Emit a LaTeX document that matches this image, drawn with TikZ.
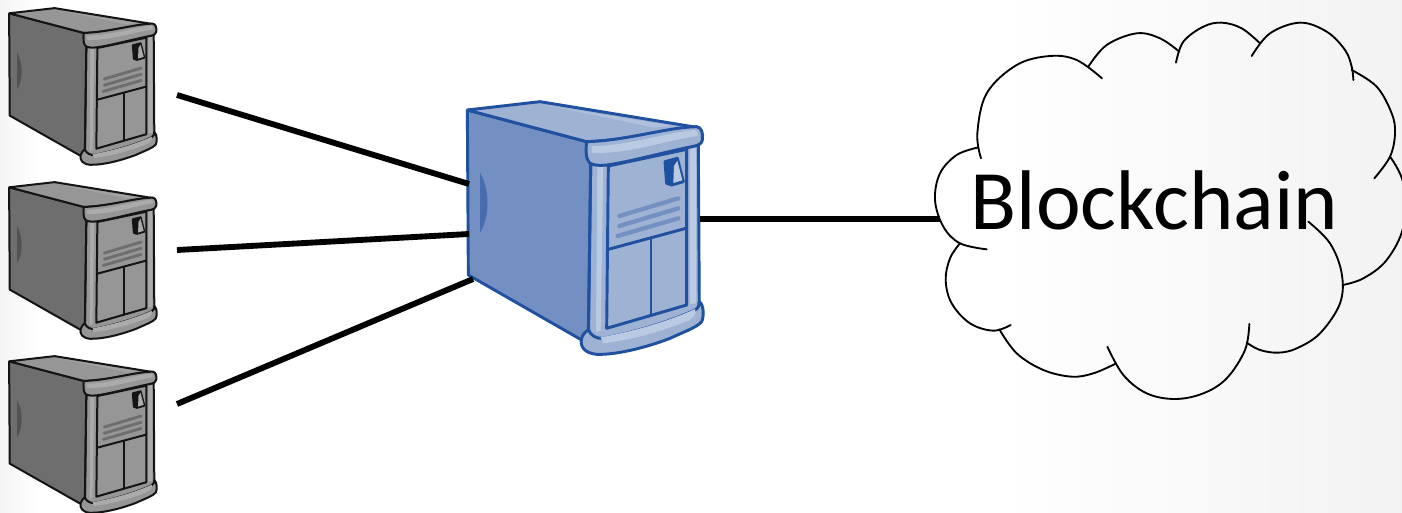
\documentclass[tikz,border=0pt]{standalone}
\usepackage{fontspec}
\setmainfont{Carlito}
\newcommand{\towerdraw}[2]{% line width, bulge colour
  \begin{scope}[line width=#1, draw=tline, line join=round]
    % side
    \fill[tside] (82,60) -- (440,155) -- (450,230) -- (445,720) -- (425,750) -- (85,555) -- cycle;
    \draw (82,60) -- (440,155);
    \draw (82,60) -- (85,555) -- (425,750);
    \fill[#2] (120,248) .. controls (150,300) and (150,380) .. (120,428) -- cycle;
    % top
    \filldraw[fill=tlight] (82,60) -- (300,35) -- (770,112) .. controls (700,112) and (560,152) .. (440,155) -- cycle;
    \fill[thigh!60!tlight] (330,48) -- (700,108) -- (640,112) -- cycle;
    % front frame
    \filldraw[fill=tlight] (452,225) -- (775,165) -- (778,670) -- (445,765) -- cycle;
    \fill[thigh] (472,225) -- (490,222) -- (482,722) -- (468,726) -- cycle;
    \fill[thigh] (750,178) -- (768,172) -- (768,640) -- (750,642) -- cycle;
    \draw (452,225) -- (445,730);
    % panel
    \filldraw[fill=tlight] (505,228) -- (740,178) -- (740,645) -- (500,715) -- cycle;
    \draw (505,478) -- (738,415);
    \draw (633,445) -- (633,672);
    % vents
    \begin{scope}[draw=tside, line width=1.45*#1, line cap=round]
      \draw (538,378) -- (715,325);
      \draw (538,408) -- (715,355);
      \draw (533,438) -- (715,385);
    \end{scope}
    % switch
    \filldraw[fill=tline] (675,215) -- (712,205) -- (730,275) -- (695,285) -- (680,280) -- cycle;
    \fill[thigh] (702,228) -- (712,212) -- (727,271) -- (700,279) -- cycle;
    % upper lip
    \filldraw[fill=tlight] (440,155) .. controls (560,152) and (680,112) .. (770,110)
      .. controls (785,112) and (790,130) .. (787,150)
      .. controls (785,162) and (775,165) .. (765,168)
      .. controls (680,185) and (590,210) .. (520,222)
      .. controls (490,228) and (460,228) .. (448,218)
      .. controls (437,205) and (437,180) .. (440,155) -- cycle;
    \fill[thigh] (455,168) .. controls (560,168) and (680,128) .. (762,120)
      .. controls (772,122) and (776,130) .. (772,138)
      .. controls (680,150) and (560,195) .. (455,188) -- cycle;
    % lower lip
    \filldraw[fill=tlight] (445,718) .. controls (450,735) and (470,748) .. (490,745)
      .. controls (590,725) and (690,695) .. (765,660)
      .. controls (775,655) and (778,645) .. (778,635)
      .. controls (792,645) and (792,680) .. (785,695)
      .. controls (770,712) and (740,722) .. (690,745)
      .. controls (620,772) and (530,795) .. (470,793)
      .. controls (435,790) and (418,770) .. (425,745)
      .. controls (428,730) and (440,725) .. (445,718) -- cycle;
    \fill[thigh] (482,742) .. controls (590,722) and (690,692) .. (765,657)
      .. controls (772,672) and (760,684) .. (745,692)
      .. controls (660,726) and (580,748) .. (490,760) -- cycle;
  \end{scope}
}
\tikzset{
  link/.style={draw=black, line width=4.4pt},
  lobe/.style={draw=black, line width=1.4pt, line cap=round, smooth, tension=0.6}
}
\colorlet{tside}{black}\colorlet{tlight}{black}\colorlet{thigh}{black}\colorlet{tline}{black}
\begin{document}
\begin{tikzpicture}[x=0.75pt,y=-0.75pt]
\useasboundingbox (0,0) rectangle (1402,513);
\fill[white] (0,0) rectangle (1402,513);
\shade[left color=white, right color=black!5] (1000,0) rectangle (1402,513);
\shade[left color=black!4, right color=white] (0,0) rectangle (40,513);
% grey towers
\colorlet{tside}{black!57}\colorlet{tlight}{black!41}\colorlet{thigh}{black!33}\colorlet{tline}{black!92}
\foreach \dy in {0,174,348}{
  \begin{scope}[shift={(-8,0.9+\dy)},x=0.1565pt,y=-0.155pt]
    \towerdraw{1.5pt}{black!68}
  \end{scope}
}
% blue tower
\colorlet{tside}{rgb,255:red,116;green,144;blue,194}
\colorlet{tlight}{rgb,255:red,158;green,178;blue,212}
\colorlet{thigh}{rgb,255:red,187;green,202;blue,227}
\colorlet{tline}{rgb,255:red,32;green,80;blue,160}
\begin{scope}[shift={(440,90)},x=0.25pt,y=-0.25pt]
  \towerdraw{2.2pt}{tline!55!tside}
\end{scope}
% connector ends
\coordinate (g1) at (177,95);
\coordinate (g2) at (177,250);
\coordinate (g3) at (177,404);
\coordinate (b1) at (469,184);
\coordinate (b2) at (469,234);
\coordinate (b3) at (473,279);
\coordinate (bout) at (700,219);
\coordinate (cloudin) at (940,219);
\draw[link] (g1) -- (b1);
\draw[link] (g2) -- (b2);
\draw[link] (g3) -- (b3);
\draw[link] (bout) -- (cloudin);
% cloud
\begin{scope}[shift={(920,10)},x=0.25pt,y=-0.25pt]
  \draw[lobe] plot coordinates {(200,718)(120,700)(70,650)(45,570)(60,490)(110,435)(172,413)};
  \draw[lobe] plot coordinates {(183,445)(172,370)(200,250)(290,165)(390,138)(470,150)(546,205)};
  \draw[lobe] plot coordinates {(505,170)(560,105)(650,70)(720,85)(778,125)};
  \draw[lobe] plot coordinates {(768,158)(790,95)(850,50)(905,38)(965,55)(1020,100)};
  \draw[lobe] plot coordinates {(995,138)(1050,70)(1140,38)(1220,65)(1275,120)(1295,170)(1300,210)};
  \draw[lobe] plot coordinates {(1295,180)(1370,230)(1415,310)(1425,370)(1410,440)(1363,505)};
  \draw[lobe] plot coordinates {(1410,440)(1450,520)(1450,650)(1400,750)(1330,805)(1268,825)};
  \draw[lobe] plot coordinates {(1165,635)(1230,700)(1265,790)(1260,880)(1200,970)(1130,1015)(1075,1028)(1020,1020)(980,998)};
  \draw[lobe] plot coordinates {(988,942)(975,1020)(920,1105)(850,1150)(765,1167)(680,1150)(610,1095)(562,1010)};
  \draw[lobe] plot coordinates {(585,1062)(520,1090)(455,1100)(370,1080)(290,1030)(238,958)};
  \draw[lobe] plot coordinates {(272,945)(220,962)(150,940)(95,880)(77,810)(90,745)(120,700)};
\end{scope}
\node[anchor=base, inner sep=0pt, font=\fontsize{63.5}{63.5}\selectfont] (chain) at (1154.5,229.5) {Blockchain};
\end{tikzpicture}
\end{document}
